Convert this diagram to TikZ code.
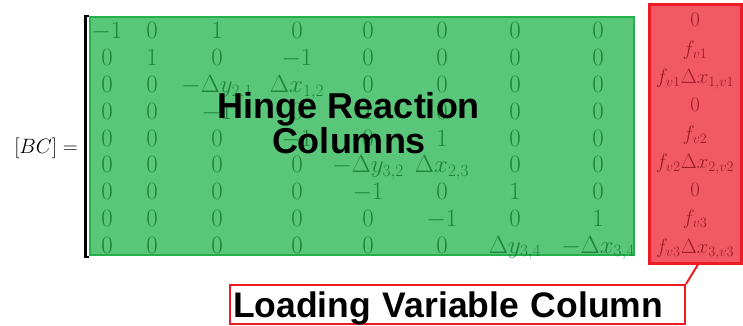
\documentclass[tikz,border=0pt]{standalone}
\usepackage{fontspec}
\newfontfamily\labelfont{Liberation Sans}
\definecolor{hingefill}{RGB}{90,198,122}
\definecolor{hingeline}{RGB}{34,177,76}
\definecolor{hingetext}{RGB}{30,132,58}
\definecolor{loadfill}{RGB}{241,90,101}
\definecolor{loadline}{RGB}{237,28,36}
\definecolor{loadtext}{RGB}{160,30,42}
\tikzset{
  entry/.style={anchor=base, inner sep=0pt, text=hingetext,
    font=\fontsize{23}{27}\selectfont},
  loadentry/.style={anchor=base, inner sep=0pt, text=loadtext,
    font=\fontsize{22}{26}\selectfont},
  bigtitle/.style={inner sep=0pt, align=center, text=black,
    font=\labelfont\bfseries\fontsize{36}{35}\selectfont},
}
\begin{document}
\begin{tikzpicture}[x=1pt,y=-1pt]
\useasboundingbox (0,0) rectangle (743,326);

% left-hand side
\node[anchor=base east, inner sep=0pt, font=\fontsize{21}{25}\selectfont]
  (lhs) at (78,153) {$[BC]=$};

% matrix bracket
\draw[line width=2.5pt] (88.5,16) -- (85.5,16) -- (85.5,257) -- (88.5,257);

% hinge reaction block
\node[draw=hingeline, fill=hingefill, line width=2.5pt, inner sep=0pt,
  minimum width=544pt, minimum height=238pt] (hinge) at (362,136) {};

\foreach \r/\row in {
  1/{-1,0,1,0,0,0,0,0},
  2/{0,1,0,-1,0,0,0,0},
  3/{0,0,{-\Delta y_{2,1}},{\Delta x_{1,2}},0,0,0,0},
  4/{0,0,-1,0,1,0,0,0},
  5/{0,0,0,-1,0,1,0,0},
  6/{0,0,0,0,{-\Delta y_{3,2}},{\Delta x_{2,3}},0,0},
  7/{0,0,0,0,-1,0,1,0},
  8/{0,0,0,0,0,-1,0,1},
  9/{0,0,0,0,0,0,{\Delta y_{3,4}},{-\Delta x_{3,4}}}}{
  \foreach \e [count=\c] in \row {
    \pgfmathsetmacro\xx{{107,152,217,297,368,442,515,598}[\c-1]}
    \node[entry] (g-\r-\c) at (\xx,{39+26.75*(\r-1)}) {$\e$};
  }
}

% loading variable block
\node[draw=loadline, fill=loadfill, line width=3pt, inner sep=0pt,
  minimum width=92pt, minimum height=258pt] (load) at (695,134) {};

\foreach \e [count=\r] in {0,f_{v1},{f_{v1}\Delta x_{1,v1}},0,f_{v2},
    {f_{v2}\Delta x_{2,v2}},0,f_{v3},{f_{v3}\Delta x_{3,v3}}} {
  \node[loadentry] (l-\r) at (695,{27+28.25*(\r-1)}) {$\e$};
}

% captions
\node[bigtitle] (hingelabel) at (349,123) {Hinge Reaction\\Columns};

\node[draw=loadline, fill=white, line width=2pt, inner ysep=0pt, inner xsep=3pt,
  text width=449pt, align=left, text height=32pt, text depth=7pt,
  font=\labelfont\bfseries\fontsize{35.5}{36}\selectfont]
  (loadlabel) at (457.5,304.5) {Loading Variable Column};

\draw[loadline, line width=2pt] ([xshift=3pt]load.south) -- (loadlabel.north east);
\end{tikzpicture}
\end{document}
